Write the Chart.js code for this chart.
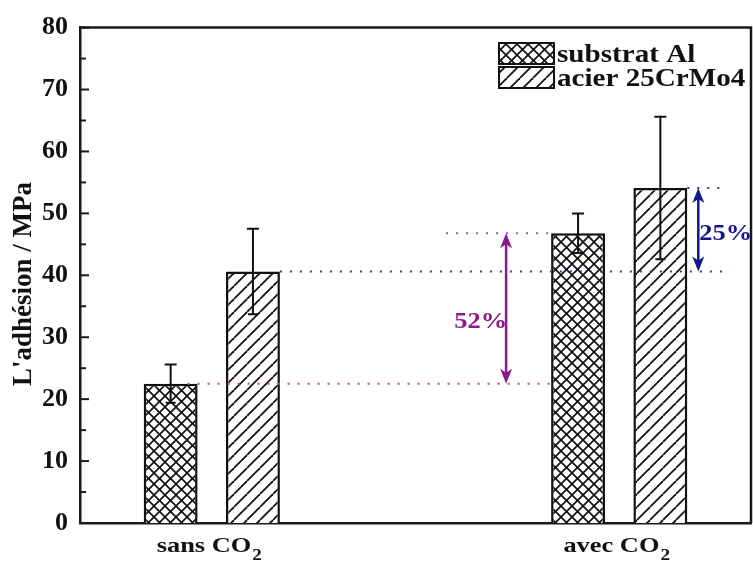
<!DOCTYPE html>
<html>
<head>
<meta charset="utf-8">
<script src="https://cdn.jsdelivr.net/npm/chart.js"></script>
<style>
  body { margin: 0; background: #fff; overflow: hidden; }
  canvas { display: block; }
</style>
</head>
<body>
<canvas id="grafico" width="753" height="563"></canvas>
<script>
const categories = ['sans CO2', 'avec CO2'];
const seriesNames = ['substrat Al', 'acier 25CrMo4'];
const substratAl = [22.5, 46.8];
const substratAlErr = [3.1, 3.2];
const acier = [40.6, 54.1];
const acierErr = [6.9, 11.5];
const yTicks = [0, 10, 20, 30, 40, 50, 60, 70, 80];
const gainLabels = ['52%', '25%'];

const serif = "'Liberation Serif', 'Times New Roman', serif";
const magenta = '#8a1a8a';
const navy = '#16168c';

// hatch fills
function hatch(cross) {
    const s = cross ? 11 : 13;
    const c = document.createElement('canvas');
    c.width = s; c.height = s;
    const g = c.getContext('2d');
    g.fillStyle = '#fff';
    g.fillRect(0, 0, s, s);
    g.strokeStyle = '#111';
    g.lineWidth = cross ? 1.7 : 1.8;
    for (let k = -1; k <= 1; k++) {
        g.beginPath();
        g.moveTo(k * s, s);
        g.lineTo(k * s + s, 0);
        g.stroke();
        if (cross) {
            g.beginPath();
            g.moveTo(k * s, 0);
            g.lineTo(k * s + s, s);
            g.stroke();
        }
    }
    return g.createPattern(c, 'repeat');
}
const crossFill = hatch(true);
const diagFill = hatch(false);

function text(ctx, str, x, y, size, color, align, sx) {
    ctx.save();
    ctx.font = 'bold ' + size + 'px ' + serif;
    ctx.fillStyle = color;
    ctx.textBaseline = 'alphabetic';
    const w = ctx.measureText(str).width * sx;
    let x0 = x;
    if (align === 'center') x0 = x - w / 2;
    if (align === 'right') x0 = x - w;
    ctx.translate(x0, y);
    ctx.scale(sx, 1);
    ctx.fillText(str, 0, 0);
    ctx.restore();
    return w;
}

function dotted(ctx, x1, x2, yy, color) {
    ctx.save();
    ctx.strokeStyle = color;
    ctx.lineWidth = 2;
    ctx.setLineDash([2, 8]);
    ctx.beginPath();
    ctx.moveTo(x1, yy);
    ctx.lineTo(x2, yy);
    ctx.stroke();
    ctx.restore();
}

function arrow(ctx, xx, yLow, yHigh, color) {
    ctx.save();
    ctx.strokeStyle = color;
    ctx.fillStyle = color;
    ctx.lineWidth = 2.5;
    ctx.beginPath();
    ctx.moveTo(xx, yLow - 10);
    ctx.lineTo(xx, yHigh + 10);
    ctx.stroke();
    [[yHigh, 1], [yLow, -1]].forEach(([tip, dir]) => {
        ctx.beginPath();
        ctx.moveTo(xx, tip);
        ctx.lineTo(xx - 6, tip + dir * 15);
        ctx.lineTo(xx, tip + dir * 11);
        ctx.lineTo(xx + 6, tip + dir * 15);
        ctx.closePath();
        ctx.fill();
    });
    ctx.restore();
}

const decor = {
    id: 'decor',
    afterDatasetsDraw(chart) {
        const { ctx, chartArea: a, scales: { x, y } } = chart;
        const bar = (d, i) => chart.getDatasetMeta(d).data[i];
        const errs = [substratAlErr, acierErr];
        const vals = [substratAl, acier];

        // error bars
        ctx.save();
        ctx.strokeStyle = '#111';
        ctx.lineWidth = 2;
        vals.forEach((arr, d) => {
            arr.forEach((v, i) => {
                const cx = bar(d, i).x;
                const top = y.getPixelForValue(v + errs[d][i]);
                const bot = y.getPixelForValue(v - errs[d][i]);
                ctx.beginPath();
                ctx.moveTo(cx, top); ctx.lineTo(cx, bot);
                ctx.moveTo(cx - 6, top); ctx.lineTo(cx + 6, top);
                ctx.moveTo(cx - 5, bot); ctx.lineTo(cx + 5, bot);
                ctx.stroke();
            });
        });
        ctx.restore();

        // top and right frame + inner ticks
        ctx.save();
        ctx.strokeStyle = '#1a1a1a';
        ctx.lineWidth = 2.5;
        ctx.beginPath();
        ctx.moveTo(a.left, a.top); ctx.lineTo(a.right, a.top); ctx.lineTo(a.right, a.bottom);
        ctx.stroke();
        ctx.lineWidth = 2;
        y.ticks.forEach((t, k) => {
            const py = y.getPixelForValue(t.value);
            ctx.beginPath(); ctx.moveTo(a.left, py); ctx.lineTo(a.left + 9, py); ctx.stroke();
            if (k < y.ticks.length - 1) {
                const pm = y.getPixelForValue((t.value + y.ticks[k + 1].value) / 2);
                ctx.beginPath(); ctx.moveTo(a.left, pm); ctx.lineTo(a.left + 6, pm); ctx.stroke();
            }
        });
        ctx.restore();

        // gain markers
        const b0 = bar(0, 0), b1 = bar(1, 0), b2 = bar(0, 1), b3 = bar(1, 1);
        const ax1 = b2.x - b2.width / 2 - 45;
        const ax2 = b3.x + b3.width / 2 + 11;
        const yA0 = y.getPixelForValue(substratAl[0]);
        const yA1 = y.getPixelForValue(substratAl[1]);
        const yC0 = y.getPixelForValue(acier[0]);
        const yC1 = y.getPixelForValue(acier[1]);
        dotted(ctx, b0.x + b0.width / 2 - 10, b2.x - b2.width / 2, yA0, '#a050a8');
        dotted(ctx, ax1 - 60, b2.x - b2.width / 2, yA1, '#a050a8');
        dotted(ctx, b1.x + b1.width / 2, ax2 + 28, yC0, '#3a3aa0');
        dotted(ctx, b3.x + b3.width / 2, ax2 + 24, yC1, '#3a3aa0');
        arrow(ctx, ax1, yA0, yA1, magenta);
        arrow(ctx, ax2, yC0, yC1, navy);
        const m1 = y.getPixelForValue(substratAl[0] + 0.42 * (substratAl[1] - substratAl[0]));
        const m2 = y.getPixelForValue(acier[0] + 0.47 * (acier[1] - acier[0]));
        text(ctx, gainLabels[0], ax1 + 1, m1 + 8, 23, magenta, 'right', 1.15);
        text(ctx, gainLabels[1], ax2 + 1, m2 + 8, 23, navy, 'left', 1.15);

        // legend
        const fills = [crossFill, diagFill];
        seriesNames.forEach((name, k) => {
            const sy = 43 + k * 24;
            ctx.save();
            ctx.fillStyle = fills[k];
            ctx.fillRect(a.right - 252, sy, 55, 21);
            ctx.strokeStyle = '#111';
            ctx.lineWidth = 2;
            ctx.strokeRect(a.right - 252, sy, 55, 21);
            ctx.restore();
            text(ctx, name, a.right - 194, sy + 19, 26, '#111', 'left', 1.12);
        });

        // category labels with subscript
        categories.forEach((c, i) => {
            const cx = x.getPixelForValue(i) - 3;
            const main = c.slice(0, -1), sub = c.slice(-1);
            ctx.save();
            ctx.font = 'bold 22px ' + serif;
            const w1 = ctx.measureText(main).width * 1.2;
            ctx.font = 'bold 16px ' + serif;
            const w2 = ctx.measureText(sub).width * 1.2;
            ctx.restore();
            const start = cx - (w1 + w2) / 2;
            text(ctx, main, start, 552, 22, '#111', 'left', 1.2);
            text(ctx, sub, start + w1 + 1, 560, 16, '#111', 'left', 1.2);
        });

        // y title
        ctx.save();
        ctx.translate(31, 284);
        ctx.rotate(-Math.PI / 2);
        ctx.font = 'bold 27px ' + serif;
        ctx.fillStyle = '#111';
        ctx.textAlign = 'center';
        ctx.fillText("L'adhésion / MPa", 0, 0);
        ctx.restore();
    }
};

function draw() {
    new Chart(document.getElementById('grafico'), {
        type: 'bar',
        data: {
            datasets: [{
                label: seriesNames[0],
                data: substratAl.map((v, i) => ({ x: i, y: v })),
                backgroundColor: crossFill,
                borderColor: '#111',
                borderWidth: 2.5,
                barPercentage: 0.655,
                categoryPercentage: 0.404
            }, {
                label: seriesNames[1],
                data: acier.map((v, i) => ({ x: i, y: v })),
                backgroundColor: diagFill,
                borderColor: '#111',
                borderWidth: 2.5,
                barPercentage: 0.655,
                categoryPercentage: 0.404
            }]
        },
        options: {
            responsive: false,
            animation: false,
            devicePixelRatio: 1,
            layout: { padding: { top: 24, right: 2, bottom: 40, left: 0 } },
            plugins: { legend: { display: false }, tooltip: { enabled: false } },
            scales: {
                x: {
                    type: 'linear',
                    offset: false,
                    min: -0.3235,
                    max: 1.3235,
                    afterBuildTicks: s => { s.ticks = categories.map((c, i) => ({ value: i })); },
                    grid: { display: false, offset: false, drawTicks: false },
                    ticks: { display: false },
                    border: { color: '#1a1a1a', width: 2.5 }
                },
                y: {
                    min: 0,
                    max: 80,
                    afterBuildTicks: s => { s.ticks = yTicks.map(v => ({ value: v })); },
                    afterFit: s => { s.width = 80; },
                    grid: { display: false, drawTicks: false },
                    border: { color: '#1a1a1a', width: 2.5 },
                    ticks: {
                        color: '#111',
                        padding: 12,
                        font: { family: serif, size: 26, weight: 'bold' }
                    }
                }
            }
        },
        plugins: [decor]
    });
}

Promise.all([
    document.fonts.load("bold 26px 'Liberation Serif'"),
    document.fonts.load("bold 16px 'Liberation Serif'")
]).then(draw, draw);
</script>
</body>
</html>
